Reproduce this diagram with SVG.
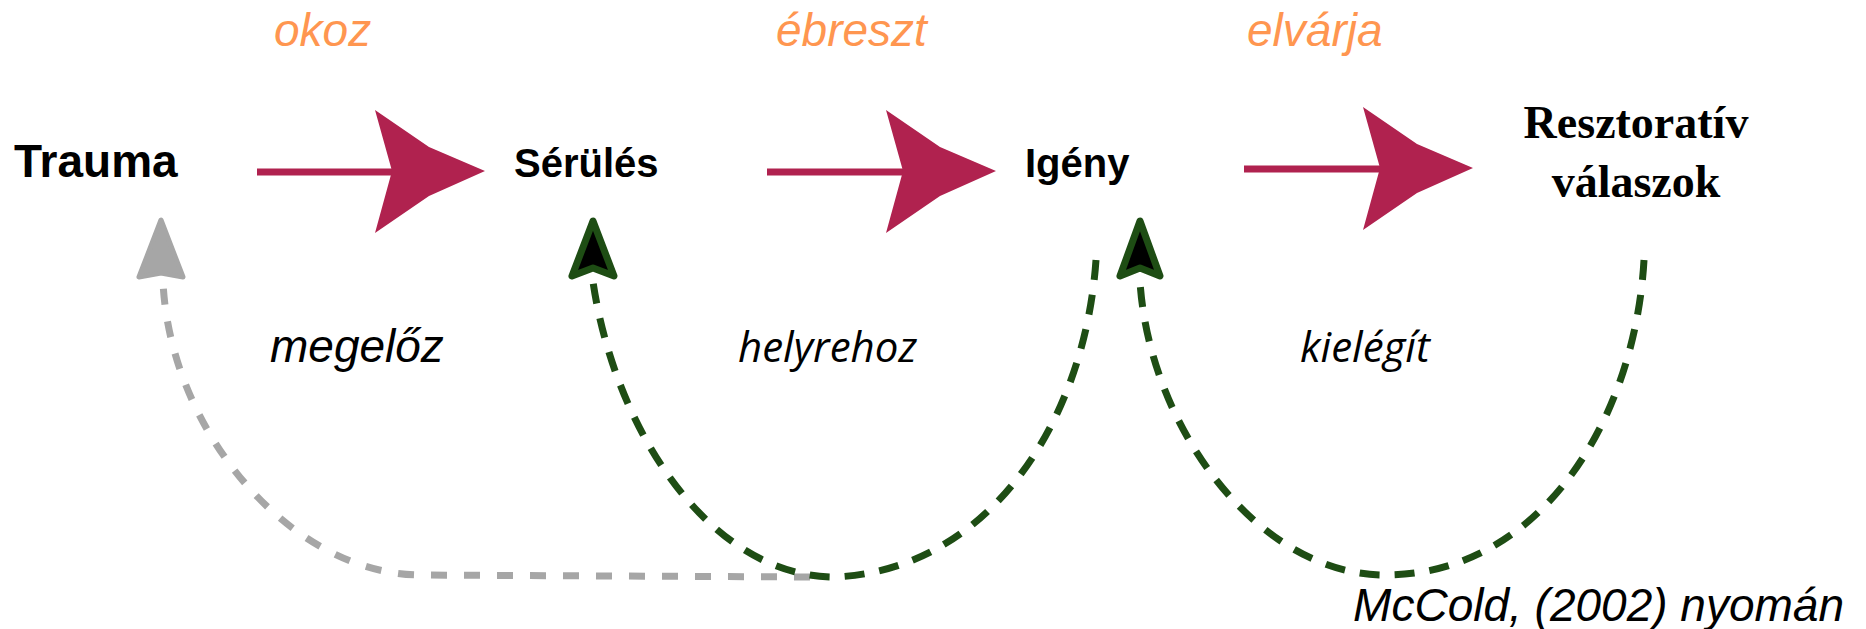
<svg xmlns="http://www.w3.org/2000/svg" xmlns:xlink="http://www.w3.org/1999/xlink" width="1866" height="629" viewBox="0 0 1866 629">
<style>
.node{font-family:"Liberation Sans",Arial,sans-serif;font-weight:bold;fill:#000}
.serif{font-family:"Liberation Serif","Times New Roman",serif;font-weight:bold;font-size:46px;fill:#000;text-anchor:middle}
.verb{font-family:"Liberation Sans",Arial,sans-serif;font-style:italic;font-size:46px;fill:#FF9650}
.lab{font-family:"Liberation Sans",Arial,sans-serif;font-style:italic;font-size:46px;fill:#000}
.lab2{font-family:"Open Sans",sans-serif;font-style:italic;font-size:42px;fill:#000}
.shaft{stroke:#B0224F;stroke-width:7;fill:none}
.head{fill:#B0224F}
.gdash{fill:none;stroke:#1E4D14;stroke-width:7;stroke-dasharray:20 15}
.ydash{fill:none;stroke:#A6A6A6;stroke-width:7;stroke-dasharray:16 17}
.ghead{fill:#000;stroke:#1E4D14;stroke-width:7;stroke-linejoin:round}
.yhead{fill:#A6A6A6;stroke:#A6A6A6;stroke-width:5;stroke-linejoin:round}
</style>
<defs>
<path id="bigHead" d="M0,0 L-56,-24 L-110,-61 L-93,0 L-110,62 L-56,25 Z"/>
</defs>
<rect width="1866" height="629" fill="#fff"/>
<g id="connectors">
<line class="shaft" x1="257" y1="172" x2="400" y2="172"/>
<use xlink:href="#bigHead" class="head" transform="translate(485,171)"/>
<line class="shaft" x1="767" y1="172" x2="910" y2="172"/>
<use xlink:href="#bigHead" class="head" transform="translate(996,171)"/>
<line class="shaft" x1="1244" y1="169" x2="1388" y2="169"/>
<use xlink:href="#bigHead" class="head" transform="translate(1473,168)"/>
<path class="ydash" d="M810,577 L420,575 C290,574 170,430 163,282"/>
<polygon class="yhead" points="161,220 139,277 161,273 183,277"/>
<path class="gdash" d="M1096,260 C1085,420 990,570 835,577 C710,577 615,430 593,282"/>
<polygon class="ghead" points="593,221 572,276 593,268 614,276"/>
<path class="gdash" d="M1644,260 C1635,420 1540,575 1385,575 C1260,575 1150,430 1140,282"/>
<polygon class="ghead" points="1140,221 1120,276 1140,268 1160,276"/>
</g>
<g id="trauma"><text class="node" x="14" y="177" font-size="46">Trauma</text></g>
<g id="serules"><text class="node" x="514" y="177" font-size="40">Sérülés</text></g>
<g id="igeny"><text class="node" x="1025" y="177" font-size="40">Igény</text></g>
<g id="resztorativ"><text class="serif" x="1636" y="138">Resztoratív</text><text class="serif" x="1636" y="197">válaszok</text></g>
<g id="labels">
<text class="verb" x="274" y="46">okoz</text>
<text class="verb" x="776" y="46">ébreszt</text>
<text class="verb" x="1247" y="46">elvárja</text>
<text class="lab" x="270" y="362">megelőz</text>
<text class="lab2" x="738" y="362">helyrehoz</text>
<text class="lab2" x="1300" y="362">kielégít</text>
<text class="lab" x="1844" y="621" text-anchor="end">McCold, (2002) nyomán</text>
</g>
</svg>
